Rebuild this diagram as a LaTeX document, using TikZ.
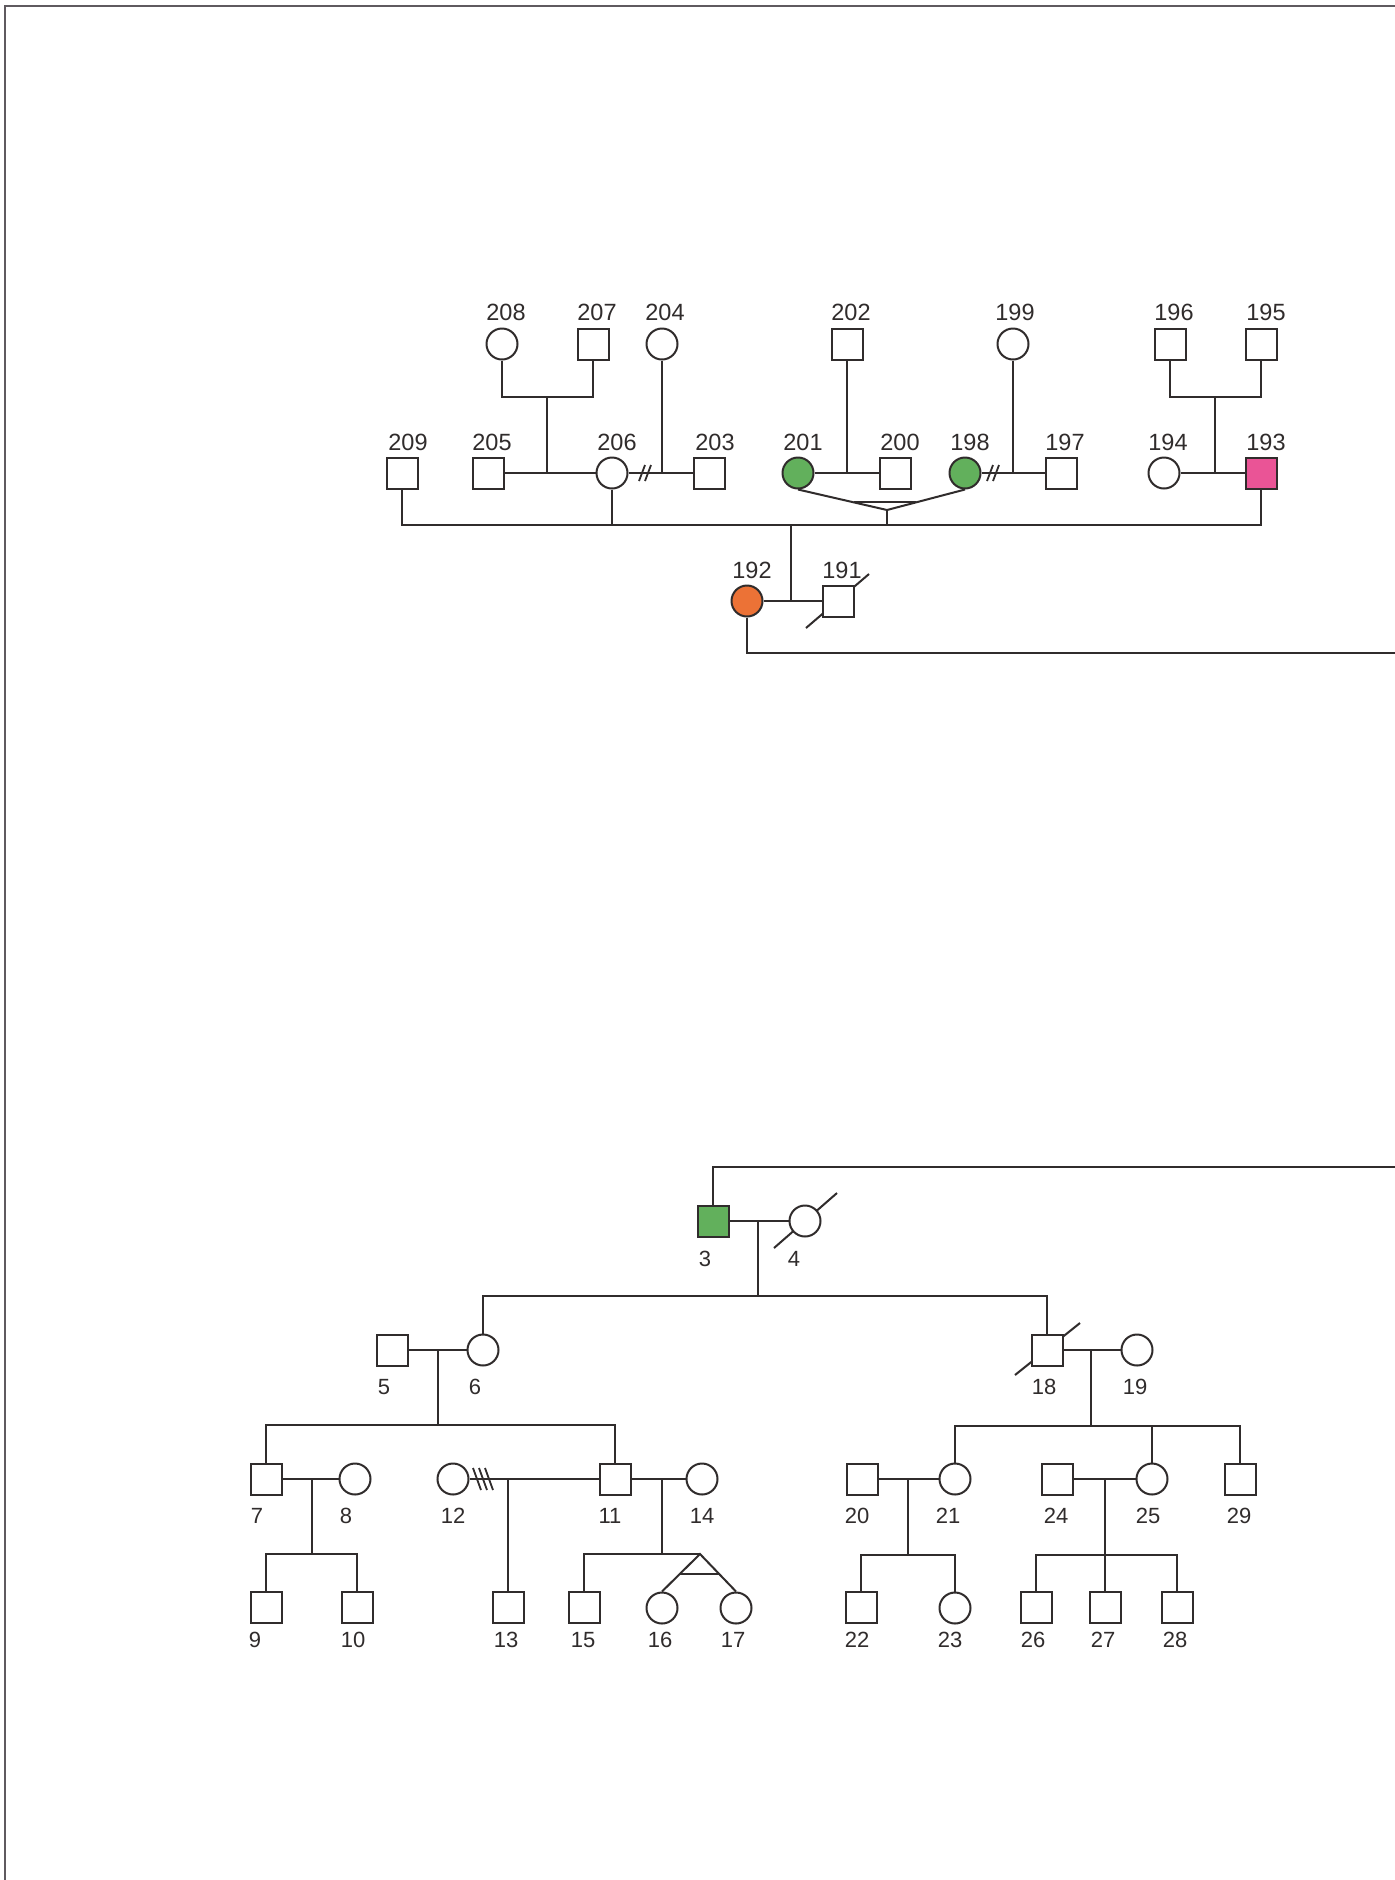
\documentclass[tikz,border=0pt]{standalone}
\usepackage{fontspec}
\setmainfont{Liberation Sans}
\usetikzlibrary{calc}
\pgfdeclarelayer{paper}
\pgfdeclarelayer{background}
\pgfsetlayers{paper,background,main}
\definecolor{lc}{RGB}{48,44,44}
\definecolor{framecol}{RGB}{95,90,95}
\definecolor{affgreen}{RGB}{98,176,92}
\definecolor{affpink}{RGB}{234,84,150}
\definecolor{afforange}{RGB}{236,114,54}
\begin{document}
\begin{tikzpicture}[x=1pt,y=-1pt,
  every path/.style={line width=2pt},
  sq/.style={draw=lc,rectangle,minimum size=31pt,inner sep=0pt,fill=white,line width=2pt},
  ci/.style={draw=lc,circle,minimum size=31pt,inner sep=0pt,fill=white,line width=2pt},
  labt/.style={inner sep=0pt,text=lc,font=\fontsize{23.5}{28}\selectfont},
  labb/.style={inner sep=0pt,text=lc,font=\fontsize{22}{26}\selectfont},
  ln/.style={draw=lc,line width=2pt},
  markline/.style={draw=lc,line width=1.8pt}]
\useasboundingbox (0,0) rectangle (1395,1880);
\begin{pgfonlayer}{paper}
\fill[white] (0,0) rectangle (1395,1880);
\end{pgfonlayer}
\draw[draw=framecol,line width=2pt] (5,1880) -- (5,6) -- (1395,6);

% ---------------- top pedigree ----------------
\node[ci] (n208) at (502,344) {};
\node[sq] (n207) at (593,344) {};
\node[ci] (n204) at (662,344) {};
\node[sq] (n202) at (847,344) {};
\node[ci] (n199) at (1013,344) {};
\node[sq] (n196) at (1170,344) {};
\node[sq] (n195) at (1261,344) {};

\node[sq] (n209) at (402,473) {};
\node[sq] (n205) at (488,473) {};
\node[ci] (n206) at (612,473) {};
\node[sq] (n203) at (709,473) {};
\node[ci,fill=affgreen] (n201) at (798,473) {};
\node[sq] (n200) at (895,473) {};
\node[ci,fill=affgreen] (n198) at (965,473) {};
\node[sq] (n197) at (1061,473) {};
\node[ci] (n194) at (1164,473) {};
\node[sq,fill=affpink] (n193) at (1261,473) {};

\node[ci,fill=afforange] (n192) at (747,601) {};
\node[sq] (n191) at (838,601) {};

\node[labt] (l208) at (506,312) {208};
\node[labt] (l207) at (597,312) {207};
\node[labt] (l204) at (665,312) {204};
\node[labt] (l202) at (851,312) {202};
\node[labt] (l199) at (1015,312) {199};
\node[labt] (l196) at (1174,312) {196};
\node[labt] (l195) at (1266,312) {195};
\node[labt] (l209) at (408,442) {209};
\node[labt] (l205) at (492,442) {205};
\node[labt] (l206) at (617,442) {206};
\node[labt] (l203) at (715,442) {203};
\node[labt] (l201) at (803,442) {201};
\node[labt] (l200) at (900,442) {200};
\node[labt] (l198) at (970,442) {198};
\node[labt] (l197) at (1065,442) {197};
\node[labt] (l194) at (1168,442) {194};
\node[labt] (l193) at (1266,442) {193};
\node[labt] (l192) at (752,570) {192};
\node[labt] (l191) at (842,570) {191};

\coordinate (m1) at (547,397);
\coordinate (m2) at (1215,397);
\coordinate (tw) at (887,510);
\coordinate (s1) at (791,525);
\coordinate (e1) at (1395,653);
\coordinate (dv1) at (645,473);
\coordinate (dv2) at (993,473);

\draw[ln] (n208.south) |- (m1) -| (n207.south);
\draw[ln] (m1) -- (m1 |- n205);
\draw[ln] (n196.south) |- (m2) -| (n195.south);
\draw[ln] (m2) -- (m2 |- n193);
\draw[ln] (n205) -- (n206);
\draw[ln] (n206) -- (n203);
\draw[ln] (n204.south) -- (n204.south |- n203);
\draw[ln] (n201) -- (n200);
\draw[ln] (n202.south) -- (n202.south |- n200);
\draw[ln] (n198) -- (n197);
\draw[ln] (n199.south) -- (n199.south |- n197);
\draw[ln] (n194) -- (n193);
\draw[markline] ($(dv1)+(-6,8)$) -- ($(dv1)+(0,-8)$);
\draw[markline] ($(dv1)+(0,8)$) -- ($(dv1)+(6,-8)$);
\draw[markline] ($(dv2)+(-6,8)$) -- ($(dv2)+(0,-8)$);
\draw[markline] ($(dv2)+(0,8)$) -- ($(dv2)+(6,-8)$);
\draw[ln] (n201.south) -- (tw) -- (n198.south);
\draw[ln] ($(n201.south)!0.63!(tw)$) -- ($(n198.south)!0.63!(tw)$);
\draw[ln] (tw) -- (tw |- s1);
\draw[ln] (n209.south) -- (n209.south |- s1) -- (n193.south |- s1) -- (n193.south);
\draw[ln] (n206.south) -- (n206.south |- s1);
\draw[ln] (s1) -- (s1 |- n192);
\draw[ln] (n192) -- (n191);
\draw[ln] (n192.south) |- (e1);

% ---------------- bottom pedigree ----------------
\node[sq,fill=affgreen] (n3) at (713,1221) {};
\node[ci] (n4) at (805,1221) {};
\node[sq] (n5) at (392,1350) {};
\node[ci] (n6) at (483,1350) {};
\node[sq] (n18) at (1047,1350) {};
\node[ci] (n19) at (1137,1350) {};
\node[sq] (n7) at (266,1479) {};
\node[ci] (n8) at (355,1479) {};
\node[ci] (n12) at (453,1479) {};
\node[sq] (n11) at (615,1479) {};
\node[ci] (n14) at (702,1479) {};
\node[sq] (n20) at (862,1479) {};
\node[ci] (n21) at (955,1479) {};
\node[sq] (n24) at (1057,1479) {};
\node[ci] (n25) at (1152,1479) {};
\node[sq] (n29) at (1240,1479) {};
\node[sq] (n9) at (266,1607) {};
\node[sq] (n10) at (357,1607) {};
\node[sq] (n13) at (508,1607) {};
\node[sq] (n15) at (584,1607) {};
\node[ci] (n16) at (662,1608) {};
\node[ci] (n17) at (736,1608) {};
\node[sq] (n22) at (861,1607) {};
\node[ci] (n23) at (955,1608) {};
\node[sq] (n26) at (1036,1607) {};
\node[sq] (n27) at (1105,1607) {};
\node[sq] (n28) at (1177,1607) {};

\node[labb] (l3) at (705,1259) {3};
\node[labb] (l4) at (794,1259) {4};
\node[labb] (l5) at (384,1387) {5};
\node[labb] (l6) at (475,1387) {6};
\node[labb] (l18) at (1044,1387) {18};
\node[labb] (l19) at (1135,1387) {19};
\node[labb] (l7) at (257,1516) {7};
\node[labb] (l8) at (346,1516) {8};
\node[labb] (l12) at (453,1516) {12};
\node[labb] (l11) at (610,1516) {11};
\node[labb] (l14) at (702,1516) {14};
\node[labb] (l20) at (857,1516) {20};
\node[labb] (l21) at (948,1516) {21};
\node[labb] (l24) at (1056,1516) {24};
\node[labb] (l25) at (1148,1516) {25};
\node[labb] (l29) at (1239,1516) {29};
\node[labb] (l9) at (255,1640) {9};
\node[labb] (l10) at (353,1640) {10};
\node[labb] (l13) at (506,1640) {13};
\node[labb] (l15) at (583,1640) {15};
\node[labb] (l16) at (660,1640) {16};
\node[labb] (l17) at (733,1640) {17};
\node[labb] (l22) at (857,1640) {22};
\node[labb] (l23) at (950,1640) {23};
\node[labb] (l26) at (1033,1640) {26};
\node[labb] (l27) at (1103,1640) {27};
\node[labb] (l28) at (1175,1640) {28};

\coordinate (e2) at (1395,1167);
\coordinate (s2) at (758,1296);
\coordinate (s3) at (438,1425);
\coordinate (s4) at (1091,1426);
\coordinate (s5) at (312,1554);
\coordinate (s6) at (508,1479);
\coordinate (s7) at (662,1554);
\coordinate (tw2) at (700,1554);
\coordinate (s8) at (908,1555);
\coordinate (s9) at (1105,1555);
\coordinate (dv3) at (483,1479);

\draw[ln] (e2) -| (n3.north);
\draw[ln] (n3) -- (n4);
\draw[ln] (s2 |- n3) -- (s2);
\draw[ln] (n6.north) |- (s2) -| (n18.north);
\draw[ln] (n5) -- (n6);
\draw[ln] (s3 |- n5) -- (s3);
\draw[ln] (n7.north) |- (s3) -| (n11.north);
\draw[ln] (n18) -- (n19);
\draw[ln] (s4 |- n18) -- (s4);
\draw[ln] (n21.north) |- (s4) -| (n29.north);
\draw[ln] (n25.north) -- (n25.north |- s4);
\draw[ln] (n7) -- (n8);
\draw[ln] (s5 |- n7) -- (s5);
\draw[ln] (n9.north) |- (s5) -| (n10.north);
\draw[ln] (n12) -- (n11);
\draw[markline] ($(dv3)+(-10,-11)$) -- ($(dv3)+(-2,11)$);
\draw[markline] ($(dv3)+(-4,-11)$) -- ($(dv3)+(4,11)$);
\draw[markline] ($(dv3)+(2,-11)$) -- ($(dv3)+(10,11)$);
\draw[ln] (s6) -- (n13.north);
\draw[ln] (n11) -- (n14);
\draw[ln] (s7 |- n11) -- (s7);
\draw[ln] (n15.north) |- (tw2);
\draw[ln] (n16.north) -- (tw2) -- (n17.north);
\draw[ln] ($(tw2)!0.52!(n16.north)$) -- ($(tw2)!0.52!(n17.north)$);
\draw[ln] (n20) -- (n21);
\draw[ln] (s8 |- n20) -- (s8);
\draw[ln] (n22.north) |- (s8) -| (n23.north);
\draw[ln] (n24) -- (n25);
\draw[ln] (s9 |- n24) -- (n27.north);
\draw[ln] (n26.north) |- (s9) -| (n28.north);

% deceased slashes, behind the white symbols
\begin{pgfonlayer}{background}
\draw[ln] ($(n191)+(-32,27)$) -- ($(n191)+(31,-27)$);
\draw[ln] ($(n4)+(-31,27)$) -- ($(n4)+(32,-28)$);
\draw[ln] ($(n18)+(-32,25)$) -- ($(n18)+(33,-27)$);
\end{pgfonlayer}
\end{tikzpicture}
\end{document}
